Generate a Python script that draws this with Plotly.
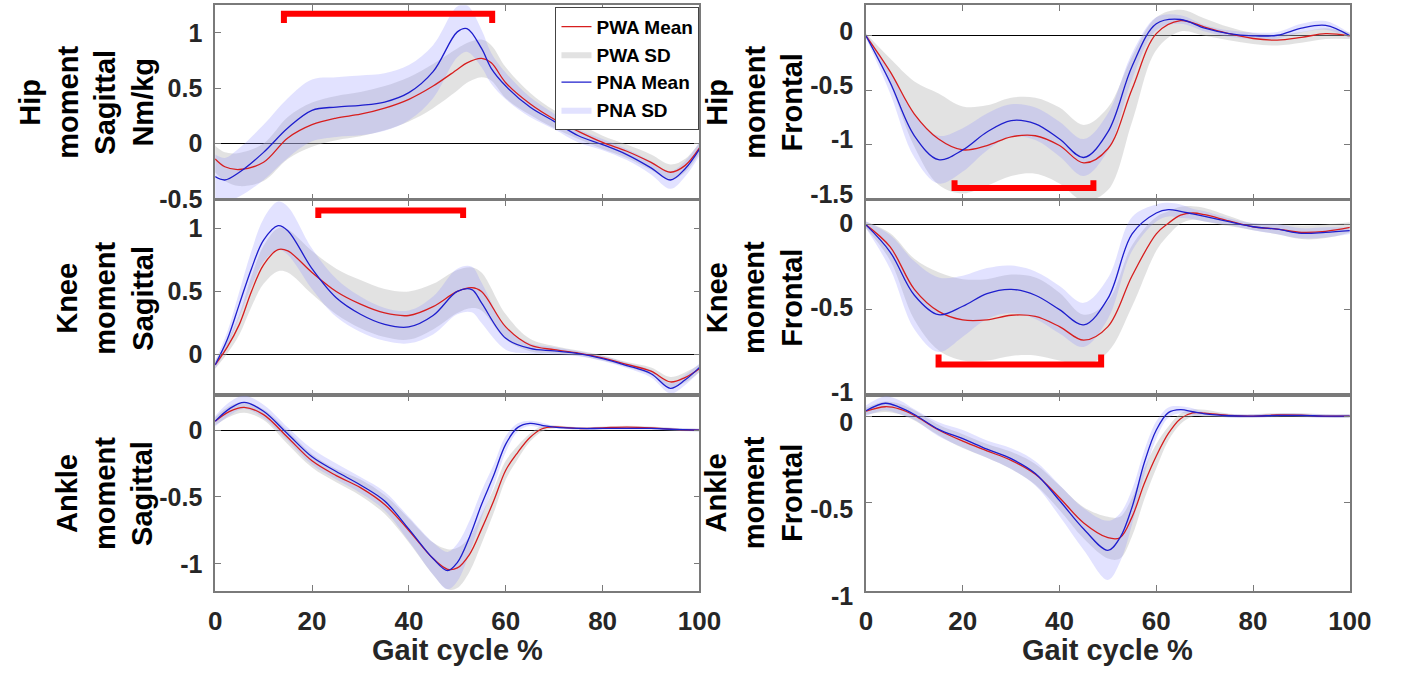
import plotly.graph_objects as go

# ---------------- data (gait cycle %, moments) ----------------
# Panel 1: Hip moment, sagittal (Nm/kg)
GAIT_HIP_SAG = [0, 2, 5, 10, 15, 20, 25, 30, 35, 40, 45, 50, 52, 55, 57, 60, 65, 70, 75, 80, 85, 90, 94, 97, 100]
PWA_MEAN_HIP_SAG = [-0.14, -0.21, -0.235, -0.17, 0.05, 0.17, 0.23, 0.265, 0.32, 0.40, 0.52, 0.67, 0.73, 0.77, 0.73, 0.55, 0.36, 0.22, 0.11, 0.01, -0.07, -0.17, -0.26, -0.2, -0.04]
PWA_SD_HIP_SAG = [0.12, 0.13, 0.15, 0.17, 0.19, 0.2, 0.2, 0.2, 0.2, 0.2, 0.2, 0.19, 0.18, 0.17, 0.16, 0.14, 0.1, 0.08, 0.07, 0.06, 0.06, 0.07, 0.07, 0.06, 0.05]
PNA_MEAN_HIP_SAG = [-0.30, -0.33, -0.26, -0.08, 0.14, 0.30, 0.33, 0.345, 0.375, 0.46, 0.65, 1.01, 1.04, 0.86, 0.68, 0.52, 0.33, 0.20, 0.07, -0.01, -0.10, -0.22, -0.33, -0.23, -0.05]
PNA_SD_HIP_SAG = [0.2, 0.2, 0.22, 0.25, 0.27, 0.28, 0.27, 0.27, 0.26, 0.25, 0.24, 0.23, 0.21, 0.17, 0.14, 0.12, 0.09, 0.07, 0.06, 0.05, 0.05, 0.06, 0.08, 0.07, 0.06]

# Panel 2: Hip moment, frontal
GAIT_HIP_FRO = [0, 5, 10, 15, 20, 25, 30, 35, 40, 45, 50, 55, 60, 65, 70, 75, 80, 85, 90, 95, 100]
PWA_MEAN_HIP_FRO = [0, -0.33, -0.72, -0.95, -1.05, -1.01, -0.93, -0.92, -1.01, -1.17, -1.04, -0.49, 0.02, 0.14, 0.08, 0.02, -0.025, -0.04, -0.015, 0.02, 0]
PWA_SD_HIP_FRO = [0.02, 0.12, 0.3, 0.42, 0.4, 0.37, 0.36, 0.35, 0.35, 0.35, 0.38, 0.3, 0.15, 0.1, 0.08, 0.06, 0.05, 0.05, 0.05, 0.05, 0.03]
PNA_MEAN_HIP_FRO = [0, -0.43, -0.92, -1.14, -1.05, -0.885, -0.78, -0.81, -0.95, -1.12, -0.885, -0.28, 0.11, 0.15, 0.07, 0.02, 0, 0.005, 0.07, 0.095, 0]
PNA_SD_HIP_FRO = [0.02, 0.1, 0.2, 0.22, 0.2, 0.17, 0.15, 0.15, 0.16, 0.17, 0.17, 0.12, 0.06, 0.04, 0.03, 0.03, 0.03, 0.03, 0.04, 0.04, 0.02]

# Panel 3: Knee moment, sagittal
GAIT_KNEE_SAG = [0, 2.5, 5, 7.5, 10, 13, 15, 20, 25, 30, 35, 40, 45, 50, 53, 55, 60, 65, 70, 75, 80, 85, 90, 94, 97, 100]
PWA_MEAN_KNEE_SAG = [-0.08, 0.06, 0.24, 0.5, 0.71, 0.83, 0.82, 0.65, 0.50, 0.40, 0.33, 0.31, 0.38, 0.50, 0.53, 0.50, 0.22, 0.077, 0.04, 0.013, -0.025, -0.077, -0.13, -0.215, -0.18, -0.11]
PWA_SD_KNEE_SAG = [0.03, 0.05, 0.08, 0.12, 0.15, 0.17, 0.17, 0.17, 0.18, 0.19, 0.19, 0.19, 0.18, 0.17, 0.16, 0.15, 0.1, 0.05, 0.03, 0.02, 0.02, 0.02, 0.03, 0.04, 0.04, 0.03]
PNA_MEAN_KNEE_SAG = [-0.08, 0.12, 0.40, 0.68, 0.905, 1.02, 0.98, 0.68, 0.45, 0.32, 0.24, 0.22, 0.31, 0.50, 0.515, 0.41, 0.13, 0.05, 0.03, 0.008, -0.03, -0.085, -0.15, -0.265, -0.2, -0.1]
PNA_SD_KNEE_SAG = [0.03, 0.06, 0.1, 0.14, 0.17, 0.19, 0.19, 0.16, 0.15, 0.14, 0.13, 0.13, 0.15, 0.18, 0.18, 0.16, 0.09, 0.04, 0.03, 0.02, 0.02, 0.02, 0.03, 0.04, 0.04, 0.03]

# Panel 4: Knee moment, frontal
GAIT_KNEE_FRO = [0, 5, 10, 15, 20, 25, 30, 35, 40, 45, 50, 55, 60, 62.5, 65, 67.5, 70, 75, 80, 85, 90, 95, 100]
PWA_MEAN_KNEE_FRO = [0, -0.13, -0.38, -0.51, -0.56, -0.56, -0.533, -0.54, -0.60, -0.68, -0.60, -0.30, -0.053, 0.01, 0.057, 0.07, 0.06, 0.023, -0.011, -0.025, -0.044, -0.038, -0.015]
PWA_SD_KNEE_FRO = [0.02, 0.08, 0.18, 0.23, 0.24, 0.24, 0.24, 0.23, 0.2, 0.15, 0.15, 0.18, 0.1, 0.07, 0.05, 0.04, 0.04, 0.03, 0.02, 0.03, 0.04, 0.04, 0.03]
PNA_MEAN_KNEE_FRO = [0, -0.16, -0.415, -0.53, -0.48, -0.405, -0.38, -0.415, -0.50, -0.59, -0.434, -0.053, 0.07, 0.09, 0.08, 0.065, 0.05, 0.019, -0.011, -0.025, -0.05, -0.044, -0.034]
PNA_SD_KNEE_FRO = [0.02, 0.1, 0.2, 0.22, 0.18, 0.15, 0.14, 0.14, 0.14, 0.13, 0.12, 0.1, 0.05, 0.04, 0.04, 0.03, 0.03, 0.02, 0.02, 0.03, 0.03, 0.03, 0.02]

# Panel 5: Ankle moment, sagittal
GAIT_ANK_SAG = [0, 3, 6, 10, 15, 20, 25, 30, 35, 40, 45, 48, 50, 52.5, 55, 57.5, 60, 62.5, 65, 67.5, 70, 75, 80, 85, 90, 95, 100]
PWA_MEAN_ANK_SAG = [0.066, 0.14, 0.17, 0.115, -0.056, -0.23, -0.34, -0.43, -0.556, -0.75, -0.96, -1.04, -1.03, -0.93, -0.74, -0.53, -0.30, -0.166, -0.056, 0.01, 0.024, 0.012, 0.017, 0.022, 0.017, 0.005, 0]
PWA_SD_ANK_SAG = [0.03, 0.04, 0.04, 0.04, 0.05, 0.05, 0.05, 0.06, 0.07, 0.09, 0.12, 0.15, 0.15, 0.13, 0.11, 0.09, 0.07, 0.05, 0.03, 0.02, 0.01, 0.01, 0.01, 0.01, 0.01, 0.01, 0.01]
PNA_MEAN_ANK_SAG = [0.066, 0.16, 0.207, 0.14, -0.03, -0.20, -0.31, -0.41, -0.53, -0.74, -0.96, -1.05, -0.99, -0.80, -0.556, -0.34, -0.105, 0.02, 0.05, 0.035, 0.022, 0.012, 0.012, 0.012, 0.012, 0.005, 0]
PNA_SD_ANK_SAG = [0.04, 0.05, 0.05, 0.05, 0.05, 0.06, 0.06, 0.06, 0.07, 0.09, 0.12, 0.14, 0.14, 0.12, 0.1, 0.08, 0.06, 0.03, 0.02, 0.02, 0.01, 0.01, 0.01, 0.01, 0.01, 0.01, 0.01]

# Panel 6: Ankle moment, frontal
GAIT_ANK_FRO = [0, 4, 7, 10, 15, 20, 25, 30, 35, 40, 45, 50, 52.5, 55, 57.5, 60, 62.5, 65, 67.5, 70, 75, 80, 85, 90, 95, 100]
PWA_MEAN_ANK_FRO = [0.028, 0.054, 0.04, 0.004, -0.08, -0.144, -0.20, -0.255, -0.335, -0.47, -0.615, -0.70, -0.70, -0.58, -0.39, -0.23, -0.10, -0.015, 0.018, 0.017, 0.004, 0, 0.007, 0.006, 0, 0]
PWA_SD_ANK_FRO = [0.02, 0.03, 0.03, 0.03, 0.03, 0.04, 0.04, 0.05, 0.06, 0.07, 0.09, 0.12, 0.12, 0.11, 0.09, 0.07, 0.04, 0.03, 0.02, 0.02, 0.01, 0.01, 0.01, 0.01, 0.01, 0.01]
PNA_MEAN_ANK_FRO = [0.031, 0.074, 0.05, 0.009, -0.076, -0.13, -0.19, -0.245, -0.33, -0.486, -0.65, -0.773, -0.70, -0.523, -0.27, -0.08, 0.02, 0.037, 0.025, 0.013, 0.002, 0, 0.004, 0.004, 0, 0]
PNA_SD_ANK_FRO = [0.03, 0.04, 0.04, 0.03, 0.04, 0.05, 0.05, 0.06, 0.07, 0.09, 0.12, 0.17, 0.14, 0.1, 0.07, 0.05, 0.03, 0.02, 0.02, 0.01, 0.01, 0.01, 0.01, 0.01, 0.01, 0.01]

# Significance brackets: [x_start, x_end, y_line, y_end]
BRACKET_HIP_SAG = [14.2, 57.2, 1.175, 1.09]
BRACKET_KNEE_SAG = [21.3, 51.2, 1.14, 1.08]
BRACKET_HIP_FRO = [18.3, 47.0, -1.40, -1.33]
BRACKET_KNEE_FRO = [15.0, 48.6, -0.823, -0.765]

Y_LABELS = ["Hip<br>moment<br>Sagittal<br>Nm/kg", "Hip<br>moment<br>Frontal",
            "Knee<br>moment<br>Sagittal", "Knee<br>moment<br>Frontal",
            "Ankle<br>moment<br>Sagittal", "Ankle<br>moment<br>Frontal"]
X_TICKS = [0, 20, 40, 60, 80, 100]
X_TITLE = "Gait cycle %"
LEGEND_NAMES = ["PWA Mean", "PWA SD", "PNA Mean", "PNA SD"]

PANELS = [
    (GAIT_HIP_SAG, PWA_MEAN_HIP_SAG, PWA_SD_HIP_SAG, PNA_MEAN_HIP_SAG, PNA_SD_HIP_SAG,
     [-0.505, 1.25], [-0.5, 0, 0.5, 1], ["-0.5", "0", "0.5", "1"], BRACKET_HIP_SAG),
    (GAIT_HIP_FRO, PWA_MEAN_HIP_FRO, PWA_SD_HIP_FRO, PNA_MEAN_HIP_FRO, PNA_SD_HIP_FRO,
     [-1.505, 0.28], [-1.5, -1, -0.5, 0], ["-1.5", "-1", "-0.5", "0"], BRACKET_HIP_FRO),
    (GAIT_KNEE_SAG, PWA_MEAN_KNEE_SAG, PWA_SD_KNEE_SAG, PNA_MEAN_KNEE_SAG, PNA_SD_KNEE_SAG,
     [-0.32, 1.22], [0, 0.5, 1], ["0", "0.5", "1"], BRACKET_KNEE_SAG),
    (GAIT_KNEE_FRO, PWA_MEAN_KNEE_FRO, PWA_SD_KNEE_FRO, PNA_MEAN_KNEE_FRO, PNA_SD_KNEE_FRO,
     [-1.005, 0.145], [-1, -0.5, 0], ["-1", "-0.5", "0"], BRACKET_KNEE_FRO),
    (GAIT_ANK_SAG, PWA_MEAN_ANK_SAG, PWA_SD_ANK_SAG, PNA_MEAN_ANK_SAG, PNA_SD_ANK_SAG,
     [-1.2, 0.26], [-1, -0.5, 0], ["-1", "-0.5", "0"], None),
    (GAIT_ANK_FRO, PWA_MEAN_ANK_FRO, PWA_SD_ANK_FRO, PNA_MEAN_ANK_FRO, PNA_SD_ANK_FRO,
     [-1.005, 0.12], [-1, -0.5, 0], ["-1", "-0.5", "0"], None),
]
# small vertical nudges of tick labels (px) so adjacent panels' labels do not collide
LABEL_SHIFT = [0, -5, 0, -2, 0, 6]

# ---------------- styling ----------------
W, H = 1412, 687
FONT = "Liberation Sans, Arial, Helvetica, sans-serif"
RED = "rgb(215,30,30)"
BLUE = "rgb(30,30,205)"
GRAY_FILL = "rgba(185,185,185,0.42)"
LAV_FILL = "rgba(140,140,255,0.25)"
AXIS_COL = "#7a7a7a"
TICK_SIZE = 25

COL_X = [(212.5, 707.0), (877.0, 1371.0)]
ROW_Y = [(5.5, 205.0), (206.0, 406.5), (406.5, 607.5)]
LABEL_CX = {0: {4: 81, 3: 100}, 1: {3: 763}}

fig = go.Figure()
layout = dict(width=W, height=H, margin=dict(l=0, r=0, t=0, b=0),
              paper_bgcolor="white", plot_bgcolor="white",
              font=dict(family=FONT, color="#262626"), annotations=[])

for i, (gx, pm, ps, nm, ns, yr, tv, tt, br) in enumerate(PANELS):
    row, col = divmod(i, 2)
    ax = "" if i == 0 else str(i + 1)
    xref, yref = "x" + ax, "y" + ax
    show = (i == 0)
    pwa_hi = [m + s for m, s in zip(pm, ps)]
    pwa_lo = [m - s for m, s in zip(pm, ps)]
    pna_hi = [m + s for m, s in zip(nm, ns)]
    pna_lo = [m - s for m, s in zip(nm, ns)]
    common = dict(xaxis=xref, yaxis=yref, hoverinfo="skip")
    # PWA SD band
    fig.add_trace(go.Scatter(x=gx, y=pwa_lo, mode="lines", line=dict(width=0, shape="spline"),
                             showlegend=False, **common))
    fig.add_trace(go.Scatter(x=gx, y=pwa_hi, mode="lines", line=dict(width=0, shape="spline"),
                             fill="tonexty", fillcolor=GRAY_FILL, name=LEGEND_NAMES[1],
                             legendrank=2, showlegend=show, **common))
    # PNA SD band
    fig.add_trace(go.Scatter(x=gx, y=pna_lo, mode="lines", line=dict(width=0, shape="spline"),
                             showlegend=False, **common))
    fig.add_trace(go.Scatter(x=gx, y=pna_hi, mode="lines", line=dict(width=0, shape="spline"),
                             fill="tonexty", fillcolor=LAV_FILL, name=LEGEND_NAMES[3],
                             legendrank=4, showlegend=show, **common))
    # means
    fig.add_trace(go.Scatter(x=gx, y=pm, mode="lines", line=dict(color=RED, width=1.3, shape="spline"),
                             name=LEGEND_NAMES[0], legendrank=1, showlegend=show, **common))
    fig.add_trace(go.Scatter(x=gx, y=nm, mode="lines", line=dict(color=BLUE, width=1.3, shape="spline"),
                             name=LEGEND_NAMES[2], legendrank=3, showlegend=show, **common))
    # bracket
    if br is not None:
        x0, x1, yl, ye = br
        fig.add_trace(go.Scatter(x=[x0, x0, x1, x1], y=[ye, yl, yl, ye], mode="lines",
                                 line=dict(color="rgb(255,0,0)", width=6), showlegend=False, **common))

    cx0, cx1 = COL_X[col]
    ry0, ry1 = ROW_Y[row]
    last_row = (row == 2)
    layout["xaxis" + ax] = dict(
        domain=[cx0 / W, cx1 / W], anchor=yref, range=[0, 100],
        tickvals=X_TICKS, ticktext=[str(v) for v in X_TICKS], showticklabels=last_row,
        ticks="inside", ticklen=6, tickcolor=AXIS_COL, tickwidth=1,
        showline=True, linecolor=AXIS_COL, linewidth=1.5, mirror="ticks",
        showgrid=False, zeroline=False, ticklabelstandoff=6,
        tickfont=dict(family=FONT, size=26, weight="bold", color="#262626"))
    layout["yaxis" + ax] = dict(
        domain=[1 - ry1 / H, 1 - ry0 / H], anchor=xref, range=yr,
        tickvals=tv, ticktext=tt,
        ticks="inside", ticklen=6, tickcolor=AXIS_COL, tickwidth=1,
        showline=True, linecolor=AXIS_COL, linewidth=1.5, mirror="ticks",
        showgrid=False, zeroline=True, zerolinecolor="black", zerolinewidth=1,
        ticklabelstandoff=6, ticklabelshift=LABEL_SHIFT[i],
        tickfont=dict(family=FONT, size=TICK_SIZE, weight="bold", color="#262626"))
    nlines = Y_LABELS[i].count("<br>") + 1
    cx = LABEL_CX[col][nlines]
    layout["annotations"].append(dict(
        text=Y_LABELS[i], xref="paper", yref="paper", x=cx / W, y=1 - (ry0 + ry1) / 2 / H,
        xanchor="center", yanchor="middle", textangle=-90, showarrow=False, align="center",
        font=dict(family=FONT, size=29, weight="bold", color="black")))
    if last_row:
        layout["annotations"].append(dict(
            text=X_TITLE, xref="paper", yref="paper", x=(cx0 + cx1) / 2 / W, y=1 - 669 / H,
            xanchor="center", yanchor="middle", showarrow=False,
            font=dict(family=FONT, size=29, weight="bold", color="#262626")))

layout["legend"] = dict(x=707 / W, y=1 - 7 / H, xanchor="right", yanchor="top",
                        traceorder="normal",
                        bgcolor="white", bordercolor="#444444", borderwidth=1,
                        font=dict(family=FONT, size=19, weight="bold", color="black"),
                        tracegroupgap=0, itemwidth=30)
fig.update_layout(**layout)
fig.write_html("out.html")
